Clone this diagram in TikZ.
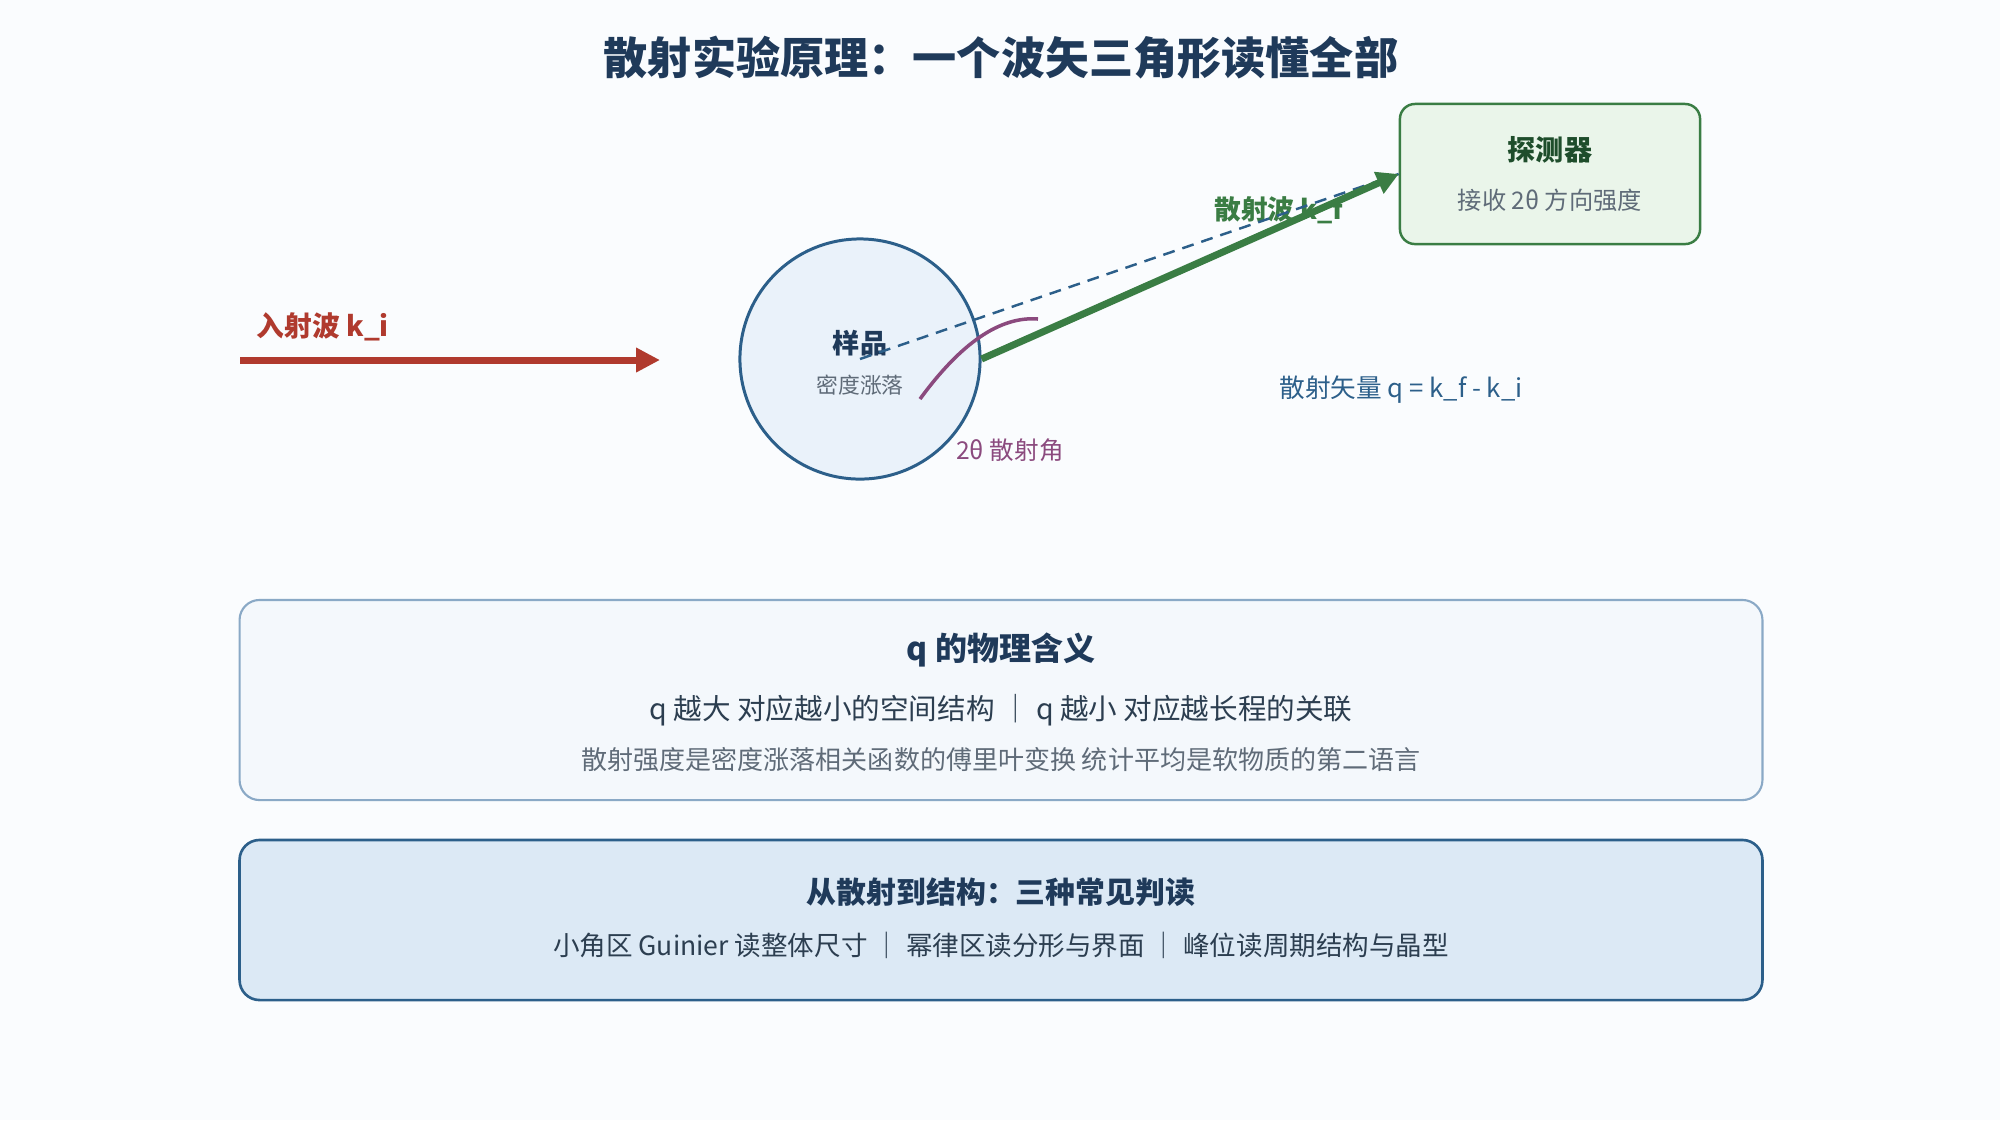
\documentclass[tikz,border=0pt]{standalone}
\usepackage{fontspec}
\setmainfont{Noto Sans CJK SC}
\usetikzlibrary{arrows.meta}

\definecolor{bgcol}{HTML}{FAFCFE}
\definecolor{navy}{HTML}{1F3A5A}
\definecolor{wavered}{HTML}{B03A2E}
\definecolor{wavegreen}{HTML}{3A7D44}
\definecolor{darkgreen}{HTML}{1E4D2B}
\definecolor{detfill}{HTML}{EAF5EA}
\definecolor{sampleblue}{HTML}{2C5F8A}
\definecolor{samplefill}{HTML}{EAF2FA}
\definecolor{anglepurple}{HTML}{8B4A7E}
\definecolor{graytext}{HTML}{5F6B78}
\definecolor{bodytext}{HTML}{2C3E50}
\definecolor{infofill}{HTML}{F4F8FC}
\definecolor{infoline}{HTML}{8AA9C6}
\definecolor{readfill}{HTML}{DCE9F5}

\newcommand{\pxsize}[1]{\fontsize{#1}{#1}\selectfont}

\begin{document}
\begin{tikzpicture}[x=0.01cm,y=-0.01cm,
    wave/.style={line width=2pt},
    sample/.style={circle,draw=sampleblue,fill=samplefill,line width=0.85pt,
      minimum size=2.4cm,inner sep=0pt},
    detbox/.style={rectangle,rounded corners=0.15cm,draw=wavegreen,fill=detfill,
      line width=0.7pt,minimum width=3cm,minimum height=1.4cm},
    infobox/.style={rectangle,rounded corners=0.2cm,minimum width=15.22cm}]
    \useasboundingbox[fill=bgcol] (0,0) rectangle (2000,1120);

    \node[font=\pxsize{12.55pt}\bfseries,text=navy] (title) at (1001,58)
      {散射实验原理：一个波矢三角形读懂全部};

    % incident wave
    \coordinate (src)  at (240,360);
    \coordinate (kin)  at (660,360);
    \node[anchor=west,inner sep=0pt,font=\pxsize{7.9pt}\bfseries,text=wavered] (kilabel) at (256,327)
      {入射波 k\_i};
    \draw[wave,wavered,-{Triangle[length=6.8pt,width=6.6pt]}] (src) -- (kin);

    % sample and detector
    \node[sample] (S) at (860,359) {};
    \node[font=\pxsize{7.7pt}\bfseries,text=navy] (Sname) at (860,343) {样品};
    \node[font=\pxsize{6.2pt},text=graytext] (Sdesc) at (860,385) {密度涨落};

    \node[detbox] (D) at (1550,174) {};
    \node[font=\pxsize{8pt}\bfseries,text=darkgreen] (Dname) at (1550,150) {探测器};
    \node[font=\pxsize{6.9pt},text=graytext] (Ddesc) at (1550,200) {接收 2θ 方向强度};

    \node[font=\pxsize{7.6pt}\bfseries,text=wavegreen] (kflabel) at (1279,210) {散射波 k\_f};
    \node[font=\pxsize{7pt},text=anglepurple] (angle) at (1010,450) {2θ 散射角};
    \node[font=\pxsize{7.3pt},text=sampleblue] (qlabel) at (1401,390) {散射矢量 q = k\_f - k\_i};

    \draw[sampleblue,line width=0.7pt,dash pattern=on 3.4pt off 2.3pt] (S.center) -- (D.west);
    \draw[wave,wavegreen,-{Triangle[length=6.2pt,width=6.4pt]}] (S.east) -- (D.west);
    \draw[anglepurple,line width=1pt] (920,399) .. controls (961,343) and (1000,316) .. (1038,319);

    % meaning of q
    \node[infobox,draw=infoline,fill=infofill,line width=0.6pt,minimum height=2cm] (B1) at (1001,700) {};
    \node[font=\pxsize{9.1pt}\bfseries,text=navy] (B1title) at (1001,650) {q 的物理含义};
    \node[font=\pxsize{8.13pt},text=bodytext] (B1line) at (1001,710)
      {q 越大 对应越小的空间结构 ｜ q 越小 对应越长程的关联};
    \node[font=\pxsize{7.4pt},text=graytext] (B1note) at (1001,760)
      {散射强度是密度涨落相关函数的傅里叶变换 统计平均是软物质的第二语言};

    % three readings
    \node[infobox,draw=sampleblue,fill=readfill,line width=0.75pt,minimum height=1.6cm] (B2) at (1001,920) {};
    \node[font=\pxsize{8.5pt}\bfseries,text=navy] (B2title) at (1001,892) {从散射到结构：三种常见判读};
    \node[font=\pxsize{7.55pt},text=bodytext] (B2line) at (1001,945)
      {小角区 Guinier 读整体尺寸 ｜ 幂律区读分形与界面 ｜ 峰位读周期结构与晶型};
\end{tikzpicture}
\end{document}
